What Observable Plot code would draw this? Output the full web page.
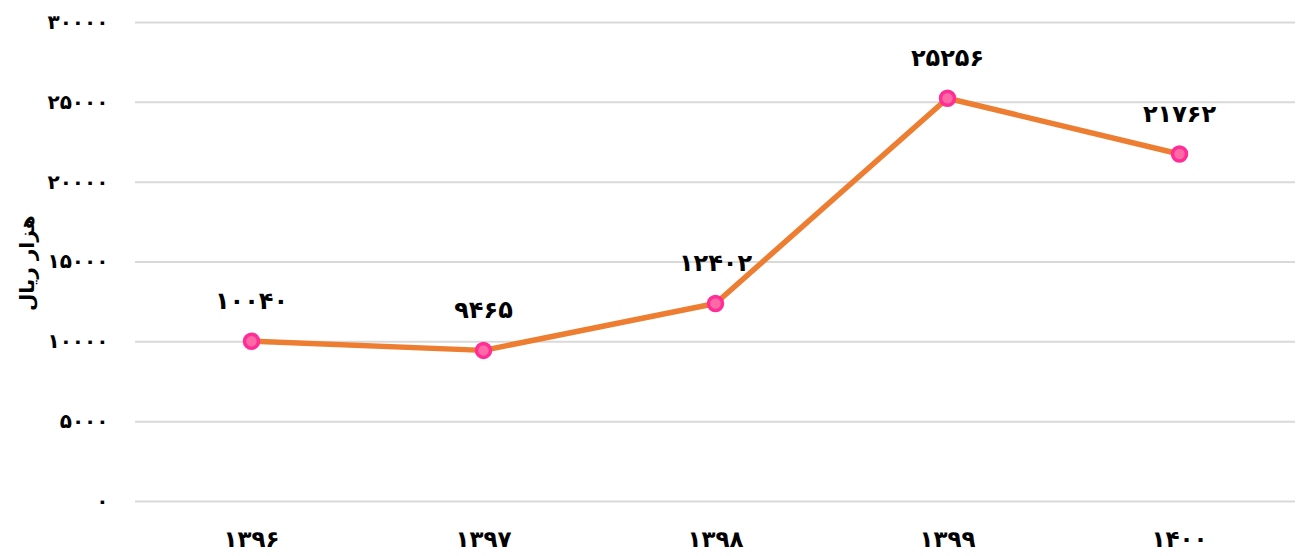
<!DOCTYPE html>
<html><head><meta charset="utf-8">
<script src="https://cdn.jsdelivr.net/npm/d3@7"></script>
<script src="https://cdn.jsdelivr.net/npm/@observablehq/plot@0.6"></script>
<style>
body{margin:0;background:#fff;overflow:hidden;}
svg{font-family:"DejaVu Sans",sans-serif;display:block;}
</style>
</head><body><div id="chart"></div>
<script>
const years = ["1396","1397","1398","1399","1400"];
const values = [10040, 9465, 12402, 25256, 21762];
const yTicks = [0, 5000, 10000, 15000, 20000, 25000, 30000];
const yLabel = "هزار ریال";

const fa = s => String(s).replace(/[0-9]/g, d => "۰۱۲۳۴۵۶۷۸۹"[d]);
const data = years.map((y, i) => ({year: y, value: values[i]}));

const chart = Plot.plot({
  width: 1299, height: 556,
  marginLeft: 135, marginRight: 4, marginTop: 22, marginBottom: 55,
  x: {type: "point", domain: years, padding: 0.5, axis: null},
  y: {domain: [0, 30000], axis: null},
  style: {fontFamily: "DejaVu Sans, sans-serif", overflow: "visible"},
  marks: [
    Plot.gridY(yTicks, {stroke: "#d9d9d9", strokeOpacity: 1, strokeWidth: 2}),
    Plot.axisY(yTicks, {tickSize: 0, tickPadding: 27, tickFormat: fa, fontSize: 20, fontWeight: "bold", fill: "#000", label: null}),
    Plot.axisX(years, {tickSize: 0, tickPadding: 29, tickFormat: fa, fontSize: 23, fontWeight: "bold", fill: "#000", label: null}),
    Plot.text([yLabel], {frameAnchor: "left", dx: -108, dy: 49, rotate: -90, fontSize: 20, fontWeight: "bold", fill: "#000"}),
    Plot.line(data, {x: "year", y: "value", stroke: "#ED7D31", strokeWidth: 5.5}),
    Plot.dot(data, {x: "year", y: "value", r: 7, fill: "#ff6aa6", stroke: "#ff2d95", strokeWidth: 3.5}),
    Plot.text(data, {x: "year", y: "value", text: d => fa(d.value), dy: -40, fontSize: 24, fontWeight: "bold", fill: "#000"})
  ]
});
document.getElementById("chart").appendChild(chart);
</script>
</body></html>
